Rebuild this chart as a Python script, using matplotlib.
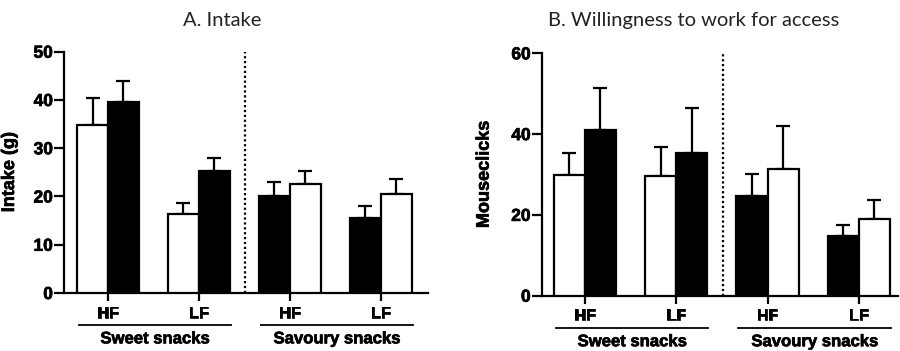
import matplotlib
matplotlib.use("Agg")
import matplotlib.pyplot as plt
import matplotlib.patheffects as pe
import numpy as np

# ---- data ----
groups = ["HF", "LF", "HF", "LF"]
supergroups = ["Sweet snacks", "Savoury snacks"]

intake_left = [34.8, 16.4, 20.2, 15.5]
intake_left_err = [5.7, 2.3, 2.9, 2.6]
intake_right = [39.5, 25.3, 22.6, 20.6]
intake_right_err = [4.4, 2.6, 2.7, 3.1]

clicks_left = [29.9, 29.6, 24.8, 14.8]
clicks_left_err = [5.3, 7.1, 5.2, 2.6]
clicks_right = [41.0, 35.4, 31.4, 18.9]
clicks_right_err = [10.4, 11.0, 10.7, 4.7]

# fill colours: left bar, right bar per group
left_fill = ["white", "white", "black", "black"]
right_fill = ["black", "black", "white", "white"]

titles = ["A. Intake", "B. Willingness to work for access"]
ylabels = ["Intake (g)", "Mouseclicks"]
yticks_list = [[0, 10, 20, 30, 40, 50], [0, 20, 40, 60]]
ylims = [50, 60]

plt.rcParams["font.family"] = ["Liberation Sans", "DejaVu Sans"]
BOLD = dict(fontweight="bold", family=["Liberation Sans", "DejaVu Sans"],
            path_effects=[pe.withStroke(linewidth=0.5, foreground="black")])

fig = plt.figure(figsize=(9, 3.51), dpi=100)
axA = fig.add_axes([0.0711, 0.1652, 0.4045, 0.6875])
axB = fig.add_axes([0.6019, 0.1576, 0.3959, 0.6905])

LW = 1.6
bw = 0.34
x = np.arange(len(groups))

def draw(ax, left, left_err, right, right_err, ymax, yt, ylabel, title, xlim, title_x, ylab_x):
    ax.bar(x - bw / 2, left, bw, color=left_fill, edgecolor="black", linewidth=LW, zorder=3)
    ax.bar(x + bw / 2, right, bw, color=right_fill, edgecolor="black", linewidth=LW, zorder=3)
    for xs, vals, errs in [(x - bw / 2, left, left_err), (x + bw / 2, right, right_err)]:
        ax.errorbar(xs, vals, yerr=[np.zeros(len(vals)), errs], fmt="none",
                    ecolor="black", elinewidth=LW, capsize=5, capthick=LW, zorder=2)
    ax.set_xlim(*xlim)
    ax.set_ylim(0, ymax)
    ax.set_yticks(yt)
    ax.set_yticklabels([str(v) for v in yt], fontsize=12.5, **BOLD)
    ax.set_xticks(x)
    ax.set_xticklabels([])
    for s in ["top", "right"]:
        ax.spines[s].set_visible(False)
    for s in ["left", "bottom"]:
        ax.spines[s].set_linewidth(LW)
    ax.tick_params(axis="y", direction="out", length=7, width=LW, pad=1)
    ax.tick_params(axis="x", direction="out", length=6, width=LW)
    ax.set_ylabel(ylabel, fontsize=13, **BOLD)
    ax.yaxis.set_label_coords(ylab_x, 0.5)
    # dotted separator
    ax.plot([1.51, 1.51], [0, ymax], ls=(0, (1, 1.2)), color="black", lw=LW, clip_on=False)
    # group labels
    trans = ax.get_xaxis_transform()
    for xi, g in zip(x, groups):
        ax.text(xi, -0.083, g, transform=trans, ha="center", va="center",
                fontsize=11.5, **BOLD)
    for i, sg in enumerate(supergroups):
        x0 = x[2 * i] - 0.32
        x1 = x[2 * i + 1] + 0.35
        ax.plot([x0, x1], [-0.132, -0.132], transform=trans, color="black", lw=1.3, clip_on=False)
        ax.text((x0 + x1) / 2, -0.19, sg, transform=trans, ha="center", va="center",
                fontsize=12, **BOLD)
    fig.text(title_x, 0.943, title, ha="center", va="center", fontsize=14.5,
             family=["Lato", "DejaVu Sans"], color="#222222")

draw(axA, intake_left, intake_left_err, intake_right, intake_right_err, ylims[0],
     yticks_list[0], ylabels[0], titles[0], (-0.484, 3.52), 222 / 900, -46 / 364)
draw(axB, clicks_left, clicks_left_err, clicks_right, clicks_right_err, ylims[1],
     yticks_list[1], ylabels[1], titles[1], (-0.474, 3.43), 694 / 900, -49 / 356)

fig.savefig("out.png", dpi=100)
